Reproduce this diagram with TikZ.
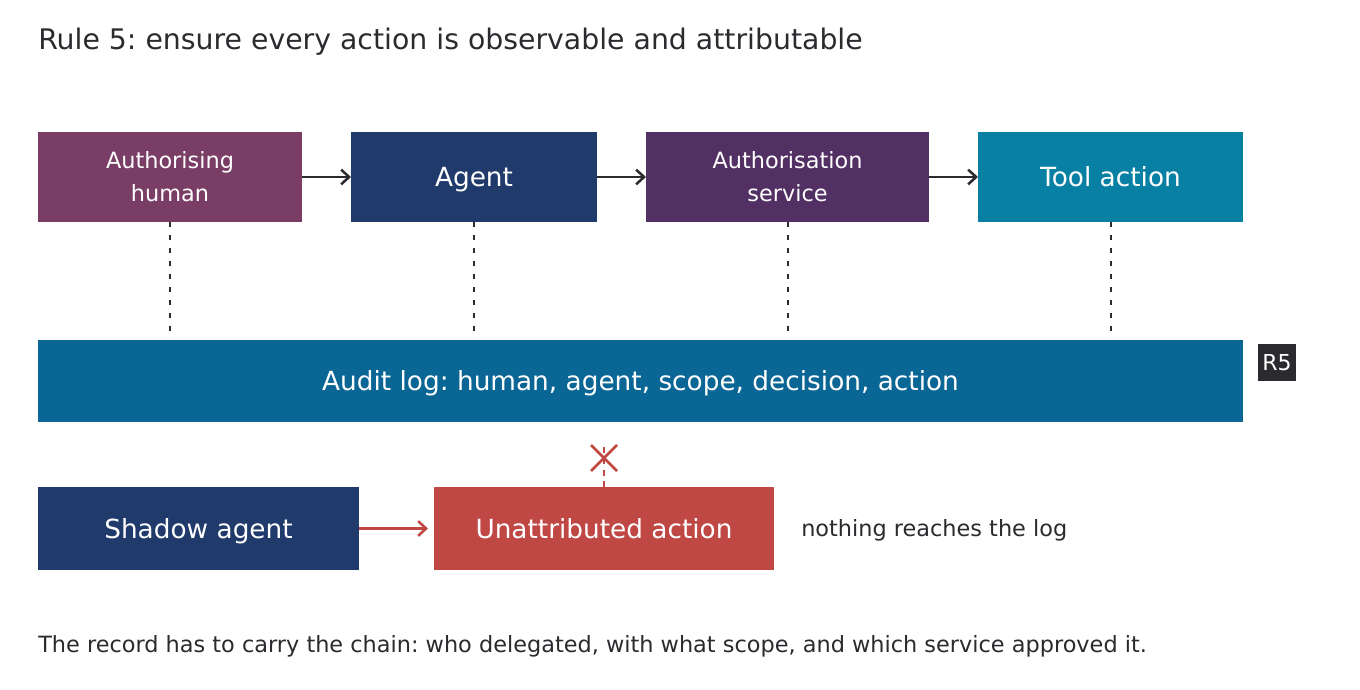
\documentclass[tikz,border=0pt]{standalone}
\usepackage{fontspec}
\setmainfont{DejaVu Sans}
\frenchspacing
\usetikzlibrary{calc}
\usetikzlibrary{arrows.meta}
\usetikzlibrary{positioning}
\definecolor{ink}{HTML}{2B2B2F}
\definecolor{plum}{HTML}{7A3E66}
\definecolor{navy}{HTML}{1F3A6B}
\definecolor{grape}{HTML}{523064}
\definecolor{teal}{HTML}{0880A4}
\definecolor{sea}{HTML}{0A6695}
\definecolor{brick}{HTML}{BF4744}
\tikzset{side/.style={draw=none,inner sep=0pt,outer sep=0pt,text=white}}

\begin{document}
\begin{tikzpicture}[x=0.75pt,y=-0.75pt]
  % some styles
  \tikzset{
    box/.style={
      side,
      rectangle,
      minimum height=67.5pt,
      align=center,
      text height=14.4pt,
      text depth=0pt,
      font=\fontsize{19.75}{24}\selectfont
    }
  }
  \tikzset{
    twobox/.style={
      side,
      rectangle,
      minimum height=67.5pt,
      align=center,
      font=\fontsize{16.8}{24.75}\selectfont
    }
  }
  \tikzset{label/.style={anchor=base west,inner sep=0pt,text=ink}}
  \tikzset{flow/.style={line width=1.9pt,draw=ink,-{Straight Barb[length=6pt,width=11pt,line width=1.9pt]}}}
  \tikzset{trace/.style={line width=1.5pt,draw=ink,dash pattern=on 3.75pt off 6pt}}

\useasboundingbox (0,0) rectangle (1360,689);

\node[label,font=\fontsize{21.25}{24}\selectfont] (title) at (38,49)
  {Rule 5: ensure every action is observable and attributable};

% top row
\node[twobox,fill=plum,minimum width=198pt] (human) at (170,177) {Authorising\\human};
\node[box,fill=navy,minimum width=184.5pt] (agent) at (474,177) {Agent};
\node[twobox,fill=grape,minimum width=212.25pt] (authsvc) at (787.5,177) {Authorisation\\service};
\node[box,fill=teal,minimum width=198.75pt] (tool) at (1110.5,177) {Tool action};

\draw[flow] (human) -- (agent);
\draw[flow] (agent) -- (authsvc);
\draw[flow] (authsvc) -- (tool);

% audit log
\node[box,fill=sea,minimum width=903.75pt,minimum height=61.5pt] (audit) at (640.5,381)
  {Audit log: human, agent, scope, decision, action};
\node[side,fill=ink,minimum width=28.5pt,minimum height=27.75pt,font=\fontsize{16.5}{20}\selectfont] (badge) at (1277,362.5) {R5};

\foreach \n in {human,agent,authsvc,tool} {
    \coordinate (\n-log) at (\n.south |- 0,334);
    \draw[trace] (\n.south) -- (\n-log);
  }

% shadow path
\node[box,fill=navy,minimum width=240.75pt,minimum height=62.25pt] (shadow) at (198.5,528.5) {Shadow agent};
\node[box,fill=brick,minimum width=255pt,minimum height=62.25pt] (unattr) at (604,528.5) {Unattributed action};
\node[label,font=\fontsize{16.8}{20}\selectfont] (nolog) at (801,536)
  {nothing reaches the log};

\draw[flow,draw=brick,shorten >=4.5pt] (shadow) -- (unattr);

\coordinate (gap) at (unattr.north |- 0,442);
\coordinate (cross) at (unattr.north |- 0,458);
\draw[brick,line width=1.5pt,dash pattern=on 4.5pt off 4pt] (unattr.north) -- (gap);
\draw[brick,line width=1.9pt] ($(cross)+(-13,-13)$) -- ($(cross)+(13,13)$)
  ($(cross)+(-13,13)$) -- ($(cross)+(13,-13)$);

\node[label,font=\fontsize{16.8}{20}\selectfont] (note) at (38,652.5)
  {The record has to carry the chain: who delegated, with what scope, and which service approved it.};

\end{tikzpicture}
\end{document}
